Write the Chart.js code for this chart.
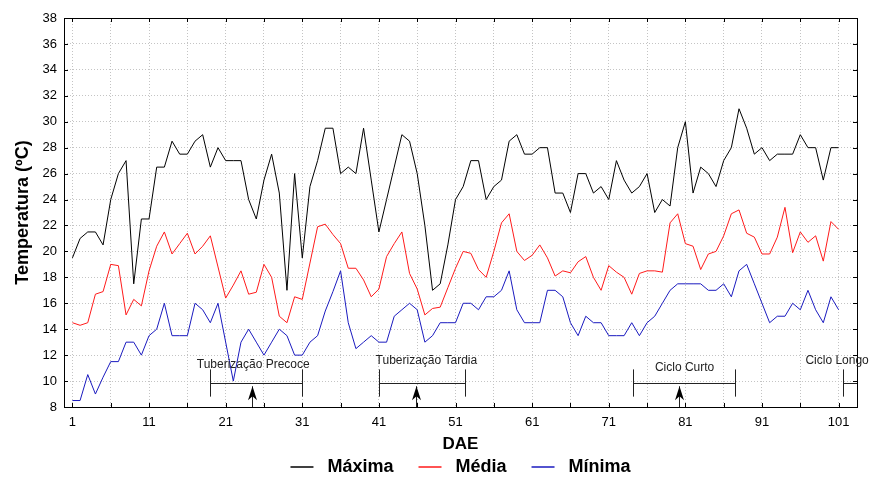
<!DOCTYPE html>
<html>
<head>
<meta charset="utf-8">
<script src="https://cdn.jsdelivr.net/npm/chart.js@4.4.1/dist/chart.umd.min.js"></script>
<style>
  html, body { margin: 0; padding: 0; background: #fff; }
</style>
</head>
<body>
<canvas id="myChart" width="870" height="479"></canvas>
<script>
// DAE (days after emergence), one reading per day
const days = Array.from({length: 101}, (_, i) => i + 1);

// daily temperatures (ºC)
const maxima = [19.5, 21, 21.5, 21.5, 20.5, 24, 26, 27, 17.5, 22.5,
  22.5, 26.5, 26.5, 28.5, 27.5, 27.5, 28.5, 29, 26.5, 28,
  27, 27, 27, 24, 22.5, 25.5, 27.5, 24.5, 17, 26,
  19.5, 25, 27, 29.5, 29.5, 26, 26.5, 26, 29.5, 25.5,
  21.5, 24, 26.5, 29, 28.5, 26, 22, 17, 17.5, 20.5,
  24, 25, 27, 27, 24, 25, 25.5, 28.5, 29, 27.5,
  27.5, 28, 28, 24.5, 24.5, 23, 26, 26, 24.5, 25,
  24, 27, 25.5, 24.5, 25, 26, 23, 24, 23.5, 28,
  30, 24.5, 26.5, 26, 25, 27, 28, 31, 29.5, 27.5,
  28, 27, 27.5, 27.5, 27.5, 29, 28, 28, 25.5, 28,
  28];
const media = [14.5, 14.3, 14.5, 16.7, 16.9, 19, 18.9, 15.1, 16.3, 15.8,
  18.5, 20.4, 21.5, 19.8, 20.6, 21.4, 19.8, 20.4, 21.2, 18.8,
  16.4, 17.4, 18.5, 16.7, 16.85, 19, 18, 15, 14.5, 16.5,
  16.3, 19.1, 21.9, 22.1, 21.3, 20.6, 18.7, 18.7, 17.8, 16.5,
  17.1, 19.6, 20.6, 21.5, 18.3, 17.1, 15.1, 15.6, 15.7, 17.2,
  18.7, 20, 19.85, 18.6, 18, 20, 22.2, 22.9, 20, 19.3,
  19.7, 20.5, 19.5, 18.1, 18.5, 18.35, 19.2, 19.6, 18, 17,
  18.9, 18.4, 18, 16.7, 18.3, 18.5, 18.5, 18.4, 22.2, 22.9,
  20.6, 20.4, 18.6, 19.8, 20, 21.2, 22.9, 23.2, 21.4, 21.1,
  19.8, 19.8, 21.1, 23.4, 19.9, 21.5, 20.7, 21.2, 19.25, 22.3,
  21.7];
const minima = [8.5, 8.5, 10.5, 9, 10.3, 11.5, 11.5, 13, 13, 12,
  13.5, 14, 16, 13.5, 13.5, 13.5, 16, 15.5, 14.5, 16,
  13, 10, 13, 14, 13, 12, 13, 14, 13.5, 12,
  12, 13, 13.5, 15.4, 16.9, 18.5, 14.5, 12.5, 13, 13.5,
  13, 13, 15, 15.5, 16, 15.5, 13, 13.5, 14.5, 14.5,
  14.5, 16, 16, 15.5, 16.5, 16.5, 17, 18.5, 15.5, 14.5,
  14.5, 14.5, 17, 17, 16.5, 14.5, 13.5, 15, 14.5, 14.5,
  13.5, 13.5, 13.5, 14.5, 13.5, 14.5, 15, 16, 17, 17.5,
  17.5, 17.5, 17.5, 17, 17, 17.5, 16.5, 18.5, 19, 17.5,
  16, 14.5, 15, 15, 16, 15.5, 17, 15.5, 14.5, 16.5,
  15.5];

// axis ticks
const gridDays = [1, 6, 11, 16, 21, 26, 31, 36, 41, 46, 51, 56, 61, 66, 71, 76, 81, 86, 91, 96, 101];
const labelDays = [1, 11, 21, 31, 41, 51, 61, 71, 81, 91, 101];

// crop phases marked under the curves (in DAE / ºC)
const phaseNames = ['Tuberização Precoce', 'Tuberização Tardia', 'Ciclo Curto', 'Ciclo Longo'];
const phaseStart = [19, 41, 74.2, 101.6];
const phaseEnd = [31, 52.3, 87.5, null];     // null = runs on to the edge
const phaseArrow = [24.5, 45.8, 80.2, null];
const phaseTextX = [24.6, 47.2, 80.9, 100.8];
const phaseTextY = [11.3, 11.55, 11.05, 11.6];

const FONT = '"Liberation Sans", Arial, sans-serif';
Chart.defaults.font.family = FONT;
Chart.defaults.color = '#000';

function toPoints(vals) {
  return days.map((d, i) => ({x: d, y: vals[i]}));
}

// frame, inner tick marks, phase brackets and arrows
const extras = {
  id: 'extras',
  afterDatasetsDraw(chart) {
    const {ctx, chartArea: a, scales: {x, y}} = chart;
    ctx.save();
    ctx.strokeStyle = '#000';
    ctx.lineWidth = 1;
    ctx.strokeRect(Math.round(a.left) + 0.5, Math.round(a.top) + 0.5,
      Math.round(a.right - a.left), Math.round(a.bottom - a.top));

    ctx.beginPath();
    x.ticks.forEach(t => {
      const px = Math.round(x.getPixelForValue(t.value)) + 0.5;
      ctx.moveTo(px, a.bottom); ctx.lineTo(px, a.bottom - 4);
      ctx.moveTo(px, a.top); ctx.lineTo(px, a.top + 4);
    });
    y.ticks.forEach(t => {
      const py = Math.round(y.getPixelForValue(t.value)) + 0.5;
      ctx.moveTo(a.left, py); ctx.lineTo(a.left + 4, py);
      ctx.moveTo(a.right, py); ctx.lineTo(a.right - 4, py);
    });
    ctx.stroke();

    // phase brackets
    const barY = Math.round(y.getPixelForValue(9.85)) + 0.5;
    const capTop = y.getPixelForValue(10.9);
    const capBot = y.getPixelForValue(8.8);
    ctx.strokeStyle = '#222';
    ctx.fillStyle = '#222';
    ctx.font = '12px ' + FONT;
    ctx.textAlign = 'center';
    ctx.textBaseline = 'middle';
    phaseNames.forEach((name, i) => {
      const x0 = Math.round(x.getPixelForValue(phaseStart[i])) + 0.5;
      const x1 = phaseEnd[i] === null ? a.right : Math.round(x.getPixelForValue(phaseEnd[i])) + 0.5;
      ctx.beginPath();
      ctx.moveTo(x0, capTop); ctx.lineTo(x0, capBot);
      ctx.moveTo(x0, barY); ctx.lineTo(x1, barY);
      if (phaseEnd[i] !== null) { ctx.moveTo(x1, capTop); ctx.lineTo(x1, capBot); }
      ctx.stroke();
      ctx.fillText(name, x.getPixelForValue(phaseTextX[i]), y.getPixelForValue(phaseTextY[i]));

      if (phaseArrow[i] !== null) {
        const ax = Math.round(x.getPixelForValue(phaseArrow[i])) + 0.5;
        const tip = y.getPixelForValue(9.6);
        ctx.beginPath();
        ctx.moveTo(ax, tip); ctx.lineTo(ax, a.bottom);
        ctx.stroke();
        ctx.beginPath();
        ctx.moveTo(ax, tip);
        ctx.lineTo(ax + 4.5, tip + 14);
        ctx.lineTo(ax, tip + 10);
        ctx.lineTo(ax - 4.5, tip + 14);
        ctx.closePath();
        ctx.fillStyle = '#000';
        ctx.fill();
        ctx.fillStyle = '#222';
      }
    });
    ctx.restore();
  }
};

const ctx = document.getElementById('myChart').getContext('2d');
const chart = new Chart(ctx, {
  type: 'line',
  data: {
    datasets: [
      {label: 'Máxima', data: toPoints(maxima), borderColor: '#000000', backgroundColor: '#000000'},
      {label: 'Média', data: toPoints(media), borderColor: '#ff1a1a', backgroundColor: '#ff1a1a'},
      {label: 'Mínima', data: toPoints(minima), borderColor: '#1a1abf', backgroundColor: '#1a1abf'}
    ]
  },
  options: {
    responsive: false,
    animation: false,
    elements: {
      line: {borderWidth: 1, tension: 0},
      point: {radius: 0}
    },
    layout: {padding: {top: 18, right: 13, bottom: -7, left: 0}},
    plugins: {
      tooltip: {enabled: false},
      legend: {
        position: 'bottom',
        fullSize: false,
        labels: {
          usePointStyle: true,
          pointStyle: 'line',
          pointStyleWidth: 23,
          padding: 5,
          color: '#000',
          font: {size: 18, weight: 'bold'},
          // a bit more air between the line sample, its text and the next item
          generateLabels: (chart) => {
            const items = Chart.defaults.plugins.legend.labels.generateLabels(chart);
            return items.map((it, i) => Object.assign(it, {
              text: ' ' + it.text + (i < items.length - 1 ? '    ' : ''),
              lineWidth: 1.5
            }));
          }
        }
      }
    },
    scales: {
      x: {
        type: 'linear',
        min: -0.1,
        max: 103.4,
        afterBuildTicks: (scale) => { scale.ticks = gridDays.map(v => ({value: v})); },
        afterFit: (scale) => { scale.height = 46; },
        ticks: {
          autoSkip: false,
          maxRotation: 0,
          padding: 8,
          color: '#000',
          font: {size: 13},
          callback: (v) => labelDays.includes(v) ? String(v) : ''
        },
        grid: {color: '#c4c4c4', drawTicks: false},
        border: {display: false, dash: [1, 2]},
        title: {display: true, text: 'DAE', color: '#000', font: {size: 17, weight: 'bold'}, padding: {top: 0, bottom: -2}}
      },
      y: {
        min: 8,
        max: 38,
        afterFit: (scale) => { scale.width = 64; },
        ticks: {stepSize: 2, padding: 7, color: '#000', font: {size: 13}},
        grid: {color: '#c4c4c4', drawTicks: false},
        border: {display: false, dash: [1, 2]},
        title: {display: true, text: 'Temperatura (ºC)', color: '#000', font: {size: 18, weight: 'bold'}, padding: {top: 12, bottom: 4}}
      }
    }
  },
  plugins: [extras]
});
</script>
</body>
</html>
